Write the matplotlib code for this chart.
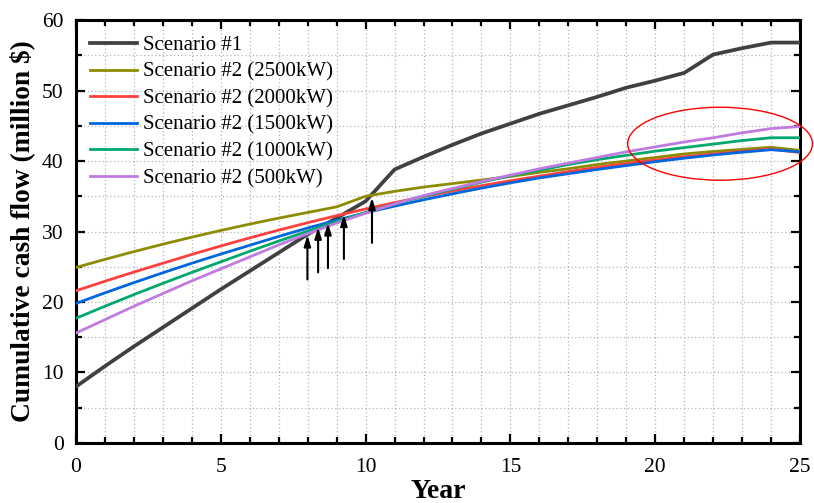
import matplotlib
matplotlib.use('Agg')
import matplotlib.pyplot as plt
from matplotlib.patches import Ellipse
from matplotlib.ticker import MultipleLocator

plt.rcParams['font.family'] = 'serif'
plt.rcParams['font.serif'] = ['Liberation Serif', 'DejaVu Serif']

years = list(range(26))

scenario1 = [8.0, 10.9, 13.7, 16.4, 19.1, 21.8, 24.4, 27.0, 29.6, 31.9, 34.3, 38.8, 40.6,
             42.3, 43.9, 45.3, 46.7, 47.9, 49.1, 50.4, 51.4, 52.5, 55.1, 56.0, 56.8, 56.8]
s2_2500 = [24.9, 26.05, 27.15, 28.2, 29.2, 30.15, 31.05, 31.9, 32.7, 33.5, 35.0, 35.7, 36.3,
           36.8, 37.3, 37.8, 38.4, 38.9, 39.5, 40.0, 40.5, 41.0, 41.35, 41.65, 41.95, 41.5]
s2_2000 = [21.6, 22.95, 24.25, 25.5, 26.75, 27.95, 29.1, 30.2, 31.25, 32.25, 33.2, 34.1, 34.95,
           35.75, 36.5, 37.2, 37.85, 38.5, 39.1, 39.65, 40.15, 40.6, 41.0, 41.35, 41.7, 41.2]
s2_1500 = [19.8, 21.3, 22.75, 24.15, 25.5, 26.8, 28.05, 29.3, 30.5, 31.6, 32.65, 33.6, 34.5,
           35.35, 36.15, 36.9, 37.6, 38.2, 38.8, 39.35, 39.9, 40.4, 40.85, 41.25, 41.6, 41.3]
s2_1000 = [17.7, 19.4, 21.05, 22.65, 24.2, 25.7, 27.2, 28.65, 30.05, 31.4, 32.7, 33.9, 35.0,
           36.0, 37.0, 37.9, 38.7, 39.5, 40.2, 40.8, 41.4, 41.9, 42.4, 42.9, 43.3, 43.3]
s2_500 = [15.6, 17.5, 19.4, 21.2, 23.0, 24.7, 26.4, 28.1, 29.7, 31.2, 32.6, 33.9, 35.1,
          36.1, 37.1, 38.0, 38.9, 39.7, 40.5, 41.3, 42.0, 42.7, 43.3, 44.0, 44.6, 44.9]

labels = ['Scenario #1', 'Scenario #2 (2500kW)', 'Scenario #2 (2000kW)',
          'Scenario #2 (1500kW)', 'Scenario #2 (1000kW)', 'Scenario #2 (500kW)']
colors = ['#404040', '#8c8c00', '#ff4040', '#0066dd', '#00a86b', '#c07be0']

# arrows pointing at the break-even crossings
arrow_x = [7.99, 8.36, 8.70, 9.25, 10.22]
arrow_tail = [23.2, 24.2, 24.8, 26.1, 28.4]
arrow_tip = [29.5, 30.6, 31.2, 32.4, 34.8]

fig = plt.figure(figsize=(8.14, 5.03), dpi=100)
ax = fig.add_axes([0.0934, 0.1193, 0.8894, 0.8409])

series = [scenario1, s2_2500, s2_2000, s2_1500, s2_1000, s2_500]
for i, (vals, lab, col) in enumerate(zip(series, labels, colors)):
    ax.plot(years, vals, color=col, lw=2.7 if i == 0 else 2.0, label=lab, zorder=3)

for x, t0, t1 in zip(arrow_x, arrow_tail, arrow_tip):
    ax.annotate('', xy=(x, t1), xytext=(x, t0),
                arrowprops=dict(arrowstyle='-|>,head_length=0.65,head_width=0.2',
                                color='black', lw=1.5, shrinkA=0, shrinkB=0),
                zorder=4)

ax.add_patch(Ellipse((22.24, 42.45), 6.38, 10.35, fill=False, edgecolor='red',
                     lw=1.0, clip_on=False, zorder=5))

ax.set_xlim(0, 25)
ax.set_ylim(0, 60)
ax.xaxis.set_major_locator(MultipleLocator(5))
ax.xaxis.set_minor_locator(MultipleLocator(1))
ax.yaxis.set_major_locator(MultipleLocator(10))
ax.yaxis.set_minor_locator(MultipleLocator(5))
ax.grid(which='both', ls=(0, (1, 2)), color='#b4b4b4', lw=0.9, zorder=0)
ax.tick_params(which='both', direction='in', top=True, right=True, width=1.6,
               labelsize=15.5)
ax.tick_params(axis='x', which='both', pad=10.5)
ax.tick_params(axis='y', which='both', pad=9)
ax.tick_params(which='major', length=6.5)
ax.tick_params(which='minor', length=4)
for sp in ax.spines.values():
    sp.set_linewidth(2.2)

ax.set_xlabel('Year', fontsize=20, fontweight='bold', labelpad=2)
ax.set_ylabel('Cumulative cash flow (million $)', fontsize=19.8, fontweight='bold',
              labelpad=5)

ax.legend(loc='upper left', bbox_to_anchor=(0.0108, 0.9778), frameon=False,
          fontsize=15, handlelength=2.27, handletextpad=0.28, labelspacing=0.335,
          borderaxespad=0, borderpad=0.3)

fig.savefig('out.png', dpi=100)
